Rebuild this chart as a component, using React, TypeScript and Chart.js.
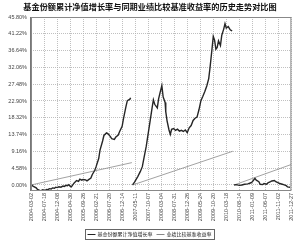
import React, { useEffect, useRef } from 'react';
import { Chart, registerables } from 'chart.js';

Chart.register(...registerables);

const TITLE = '基金份额累计净值增长率与同期业绩比较基准收益率的历史走势对比图';
const SERIES_NAMES = ['基金份额累计净值增长率', '业绩比较基准收益率'];

const DATE_LABELS = [
  '2004-03-02', '2004-07-18', '2004-12-08', '2005-04-30', '2005-09-26',
  '2006-02-21', '2006-07-20', '2006-12-14', '2007-05-11', '2007-10-07',
  '2008-03-04', '2008-07-31', '2008-12-26', '2009-05-24', '2009-10-20',
  '2010-03-18', '2010-08-14', '2011-01-09', '2011-06-07', '2011-11-02',
  '2011-12-27',
];

const Y_TICKS = [0, 4.58, 9.16, 13.74, 18.32, 22.9, 27.48, 32.06, 36.64, 41.22, 45.8];

// time positions (20 units between date labels) and values (%)
const FUND_T = [
  0, 3, 8, 10, 15, 18, 21, 24, 26, 28, 31, 33, 36, 38, 40, 43, 46, 49, 51, 54, 56, 58, 60, 62, 66, 70, 73, 75, 78, 80,
  84, 86, 88, 92, 94, 98, 100, 104, 106, 110, 112, 116, 118, 122, 124, 128, 130, 134, 136, 140, 142,
  146, 148, 152, 153,
  154,
  156, 159, 164, 168, 171, 174, 177, 180, 183, 186, 188, 190, 194, 196, 198, 201, 203, 206, 207, 209,
  212, 214, 216, 219, 222, 225, 228, 231, 234, 237, 240, 243, 246, 249, 252, 255, 258, 261, 264, 267,
  270, 273, 275, 278, 280, 282, 284, 286, 288, 291, 293, 296, 298, 300, 303, 306, 308, 309,
  310,
  312, 315, 320, 324, 328, 333, 338, 340, 344, 346, 350, 352, 356, 358, 362, 364, 368, 370, 374, 376,
  380, 382, 386, 388, 392, 394, 398,
];
const FUND_V = [
  0.2, -0.3, -0.8, -1.2, -1.6, -1.3, -1.5, -1.2, -1.3, -1.0, -1.1, -0.8, -0.9, -0.6, -0.7, -0.5, -0.6, -0.3, -0.4, -0.1, -0.2, 0.1, -0.3, -0.5, 0.5, 1.2, 1.0, 1.6, 1.3, 1.5,
  1.4, 1.1, 1.4, 1.9, 2.8, 4.0, 5.0, 7.2, 9.5, 12.0, 13.5, 14.2, 14.0, 13.2, 12.6, 12.4, 13.0, 13.6, 14.5, 16.0, 18.0,
  21.5, 23.0, 23.4, 23.8,
  null,
  0, 0.8, 2.3, 3.7, 5.0, 7.8, 10.5, 14.0, 17.5, 21.0, 23.2, 22.0, 21.0, 23.5, 25.0, 27.1, 24.0, 22.5, 20.0, 17.5,
  15.0, 13.8, 15.2, 15.4, 14.9, 15.2, 14.7, 14.9, 14.6, 15.0, 14.3, 15.6, 16.2, 17.6, 18.2, 18.5, 20.5, 23.0, 24.2, 25.5,
  27.0, 29.0, 32.0, 37.0, 40.5, 39.5, 37.0, 37.5, 39.3, 38.0, 40.8, 42.5, 44.0, 42.8, 43.2, 42.3, 42.1, 42.0,
  null,
  0, 0.1, -0.1, 0, 0.2, 0.3, 0.6, 0.9, 1.8, 1.3, 0.9, 0.2, 0.1, 0.4, 0.2, 0.6, 0.9, 1.1, 1.2, 0.9,
  0.6, 0.4, 0.2, 0.1, -0.2, -0.5, -0.6,
];

const BENCH_T = [0, 155, 155.5, 156, 310, 311, 312, 400];
const BENCH_V = [0, 6.1, null, 0, 9.2, null, 0, 5.6];

const zip = (t: number[], v: (number | null)[]) => t.map((x, i) => ({ x, y: v[i] }));

const decorPlugin = {
  id: 'decor',
  beforeDraw(chart: any) {
    const { ctx, width, height } = chart;
    ctx.save();
    ctx.fillStyle = '#ffffff';
    ctx.fillRect(0, 0, width, height);
    ctx.restore();
  },
  afterDraw(chart: any) {
    const { ctx, chartArea: a } = chart;
    ctx.save();
    // title, fitted to the reference width
    ctx.fillStyle = '#111';
    let size = 8;
    ctx.font = `700 ${size}px "Noto Sans CJK SC", sans-serif`;
    const tw = ctx.measureText(TITLE).width;
    if (tw > 0) size = size * (254 / tw);
    ctx.font = `700 ${size.toFixed(2)}px "Noto Sans CJK SC", sans-serif`;
    ctx.textAlign = 'center';
    ctx.textBaseline = 'middle';
    ctx.fillText(TITLE, 150, 6.5);
    // border
    ctx.strokeStyle = '#888';
    ctx.lineWidth = 1;
    ctx.strokeRect(a.left + 0.5, a.top + 0.5, a.right - a.left - 1, a.bottom - a.top - 1);
    ctx.strokeStyle = '#777';
    ctx.beginPath();
    ctx.moveTo(a.left - 0.5, a.top);
    ctx.lineTo(a.left - 0.5, a.bottom);
    ctx.stroke();
    // legend
    ctx.font = '5px "Noto Sans CJK SC", sans-serif';
    ctx.textAlign = 'left';
    const lineW = 8;
    const gap = 2;
    const sep = 4;
    const w1 = ctx.measureText(SERIES_NAMES[0]).width;
    const w2 = ctx.measureText(SERIES_NAMES[1]).width;
    const total = 2 + lineW + gap + w1 + sep + lineW + gap + w2 + 3;
    const bx = Math.round(150 - total / 2) + 0.5;
    const by = 229.5;
    ctx.strokeStyle = '#666';
    ctx.lineWidth = 1;
    ctx.strokeRect(bx, by, total, 10);
    let x = bx + 2;
    const cy = by + 5;
    ctx.strokeStyle = '#222';
    ctx.beginPath();
    ctx.moveTo(x, cy);
    ctx.lineTo(x + lineW, cy);
    ctx.stroke();
    x += lineW + gap;
    ctx.fillStyle = '#222';
    ctx.fillText(SERIES_NAMES[0], x, cy);
    x += w1 + sep;
    ctx.strokeStyle = '#888';
    ctx.beginPath();
    ctx.moveTo(x, cy);
    ctx.lineTo(x + lineW, cy);
    ctx.stroke();
    x += lineW + gap;
    ctx.fillText(SERIES_NAMES[1], x, cy);
    ctx.restore();
  },
};

export default function App() {
  const ref = useRef<HTMLCanvasElement | null>(null);
  useEffect(() => {
    document.body.style.margin = '0';
    const canvas = ref.current;
    if (!canvas) return;
    const chart = new Chart(canvas, {
      type: 'line',
      data: {
        datasets: [
          {
            label: SERIES_NAMES[0],
            data: zip(FUND_T, FUND_V) as any,
            borderColor: '#262626',
            borderWidth: 1.4,
            pointRadius: 0,
            tension: 0,
            spanGaps: false,
          },
          {
            label: SERIES_NAMES[1],
            data: zip(BENCH_T, BENCH_V) as any,
            borderColor: '#8a8a8a',
            borderWidth: 0.8,
            pointRadius: 0,
            tension: 0,
            spanGaps: false,
          },
        ],
      },
      options: {
        responsive: false,
        animation: false,
        devicePixelRatio: 1,
        layout: { padding: { top: 17, right: 3, bottom: 14, left: 0 } },
        plugins: {
          legend: { display: false },
          title: { display: false },
          tooltip: { enabled: false },
        },
        scales: {
          x: {
            type: 'linear',
            min: 0,
            max: 400,
            afterBuildTicks: (s: any) => {
              s.ticks = DATE_LABELS.map((_, i) => ({ value: i * 20 }));
            },
            afterFit: (s: any) => {
              s.height = 37;
            },
            ticks: {
              autoSkip: false,
              minRotation: 90,
              maxRotation: 90,
              padding: 2,
              color: '#444',
              font: { size: 5.5, family: '"Liberation Sans", Arial' },
              callback: (v: any) => DATE_LABELS[Math.round(Number(v) / 20)] ?? '',
            },
            grid: { color: '#b0b0b0', lineWidth: 0.8, drawTicks: false },
            border: { display: false, dash: [1, 1] },
          },
          y: {
            min: -1.64,
            max: 45.8,
            afterBuildTicks: (s: any) => {
              s.ticks = Y_TICKS.map((v) => ({ value: v }));
            },
            afterFit: (s: any) => {
              s.width = 31;
            },
            ticks: {
              padding: 4,
              color: '#444',
              font: { size: 5.5, family: '"Liberation Sans", Arial' },
              callback: (v: any) => Number(v).toFixed(2) + '%',
            },
            grid: { color: '#b0b0b0', lineWidth: 0.8, drawTicks: false },
            border: { display: false, dash: [1, 1] },
          },
        },
      },
      plugins: [decorPlugin],
    });
    return () => chart.destroy();
  }, []);
  return <canvas ref={ref} width={300} height={242} style={{ display: 'block' }} />;
}
